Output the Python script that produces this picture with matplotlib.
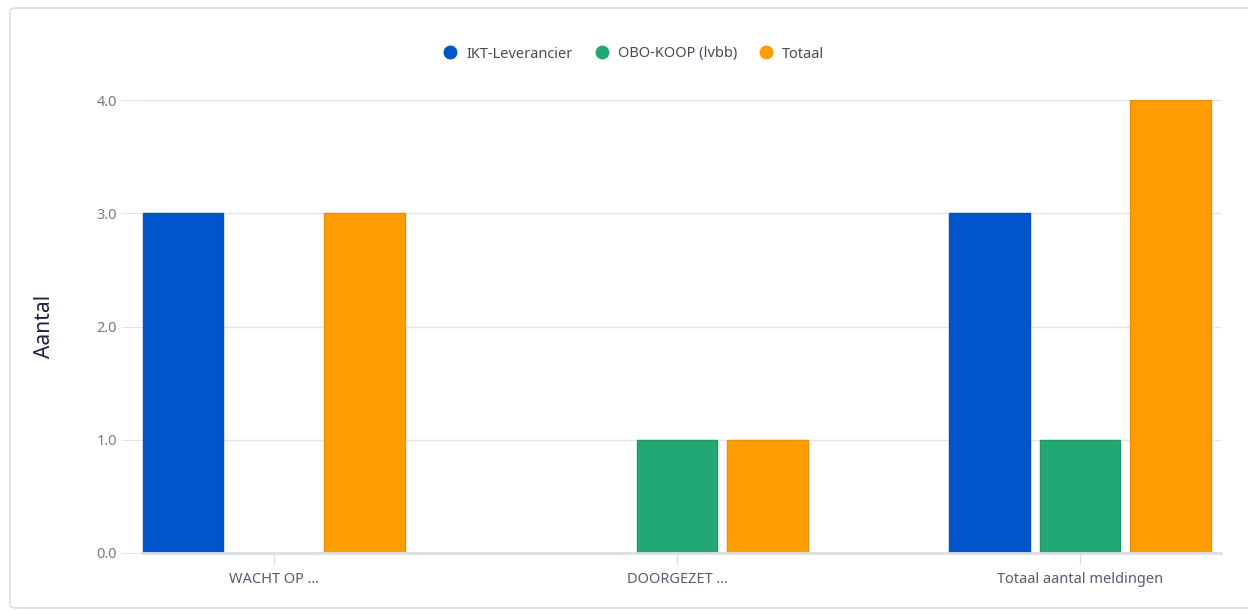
import matplotlib.pyplot as plt
import numpy as np
from matplotlib.patches import FancyBboxPatch
from matplotlib.lines import Line2D

# data
categories = ["WACHT OP ...", "DOORGEZET ...", "Totaal aantal meldingen"]
series = ["IKT-Leverancier", "OBO-KOOP (lvbb)", "Totaal"]
ikt = [3, 0, 3]
obo = [0, 1, 1]
totaal = [3, 1, 4]
yticks = [0.0, 1.0, 2.0, 3.0, 4.0]

colors = ["#0055cc", "#22a874", "#ff9c00"]
edges = ["#0a4fb8", "#1f9868", "#e8900a"]

plt.rcParams['font.family'] = ['Noto Sans', 'DejaVu Sans']

fig = plt.figure(figsize=(12.48, 6.10), dpi=100)
ax = fig.add_axes([142 / 1248, 1 - 553 / 610, (1221 - 142) / 1248, (553 - 100) / 610])

# card outline
card = FancyBboxPatch((10 / 1248, 2 / 610), 1260 / 1248, 600 / 610,
                      boxstyle="round,pad=0,rounding_size=0.006",
                      transform=fig.transFigure, fill=False,
                      edgecolor="#dcdcdc", linewidth=1.2, zorder=-5)
fig.patches.append(card)

x = np.arange(len(categories))
width = 0.2
step = 0.225
for i, (vals, c, e) in enumerate(zip([ikt, obo, totaal], colors, edges)):
    v = np.array(vals, dtype=float)
    mask = v > 0
    ax.bar(x[mask] + (i - 1) * step, v[mask], width=width, color=c,
           edgecolor=e, linewidth=1, zorder=3)

ax.set_xlim(-0.327, 2.35)
ax.set_ylim(0, 4)
ax.set_yticks(yticks)
ax.set_yticklabels([f"{t:.1f}" for t in yticks])
ax.set_xticks(x)
ax.set_xticklabels(categories)

ax.grid(axis='y', color="#e3e3e8", linewidth=1, zorder=0)
for s in ["top", "right", "left"]:
    ax.spines[s].set_visible(False)
ax.spines["bottom"].set_color("#dcdee3")
ax.spines["bottom"].set_linewidth(2)
ax.spines["bottom"].set_zorder(4)

ax.tick_params(axis='y', length=15, color="#e3e3e8", labelcolor="#7a7a80",
               labelsize=10.5, pad=3)
ax.tick_params(axis='x', length=8, color="#d8dae0", labelcolor="#5a5a70",
               labelsize=10.5, pad=6)
for lbl in ax.get_yticklabels():
    lbl.set_fontweight('light')

ax.set_ylabel("Aantal", fontsize=15, color="#1e2340", labelpad=30)

handles = [Line2D([], [], marker='o', linestyle='none', markersize=9,
                  markerfacecolor=c, markeredgecolor=c) for c in colors]
fig.legend(handles, series, loc='center', bbox_to_anchor=(630 / 1248, 1 - 54 / 610),
           ncol=3, frameon=False, fontsize=10.5, labelcolor="#4a4a5a",
           handletextpad=0.1, columnspacing=1.0)

fig.savefig("out.png", dpi=100)
